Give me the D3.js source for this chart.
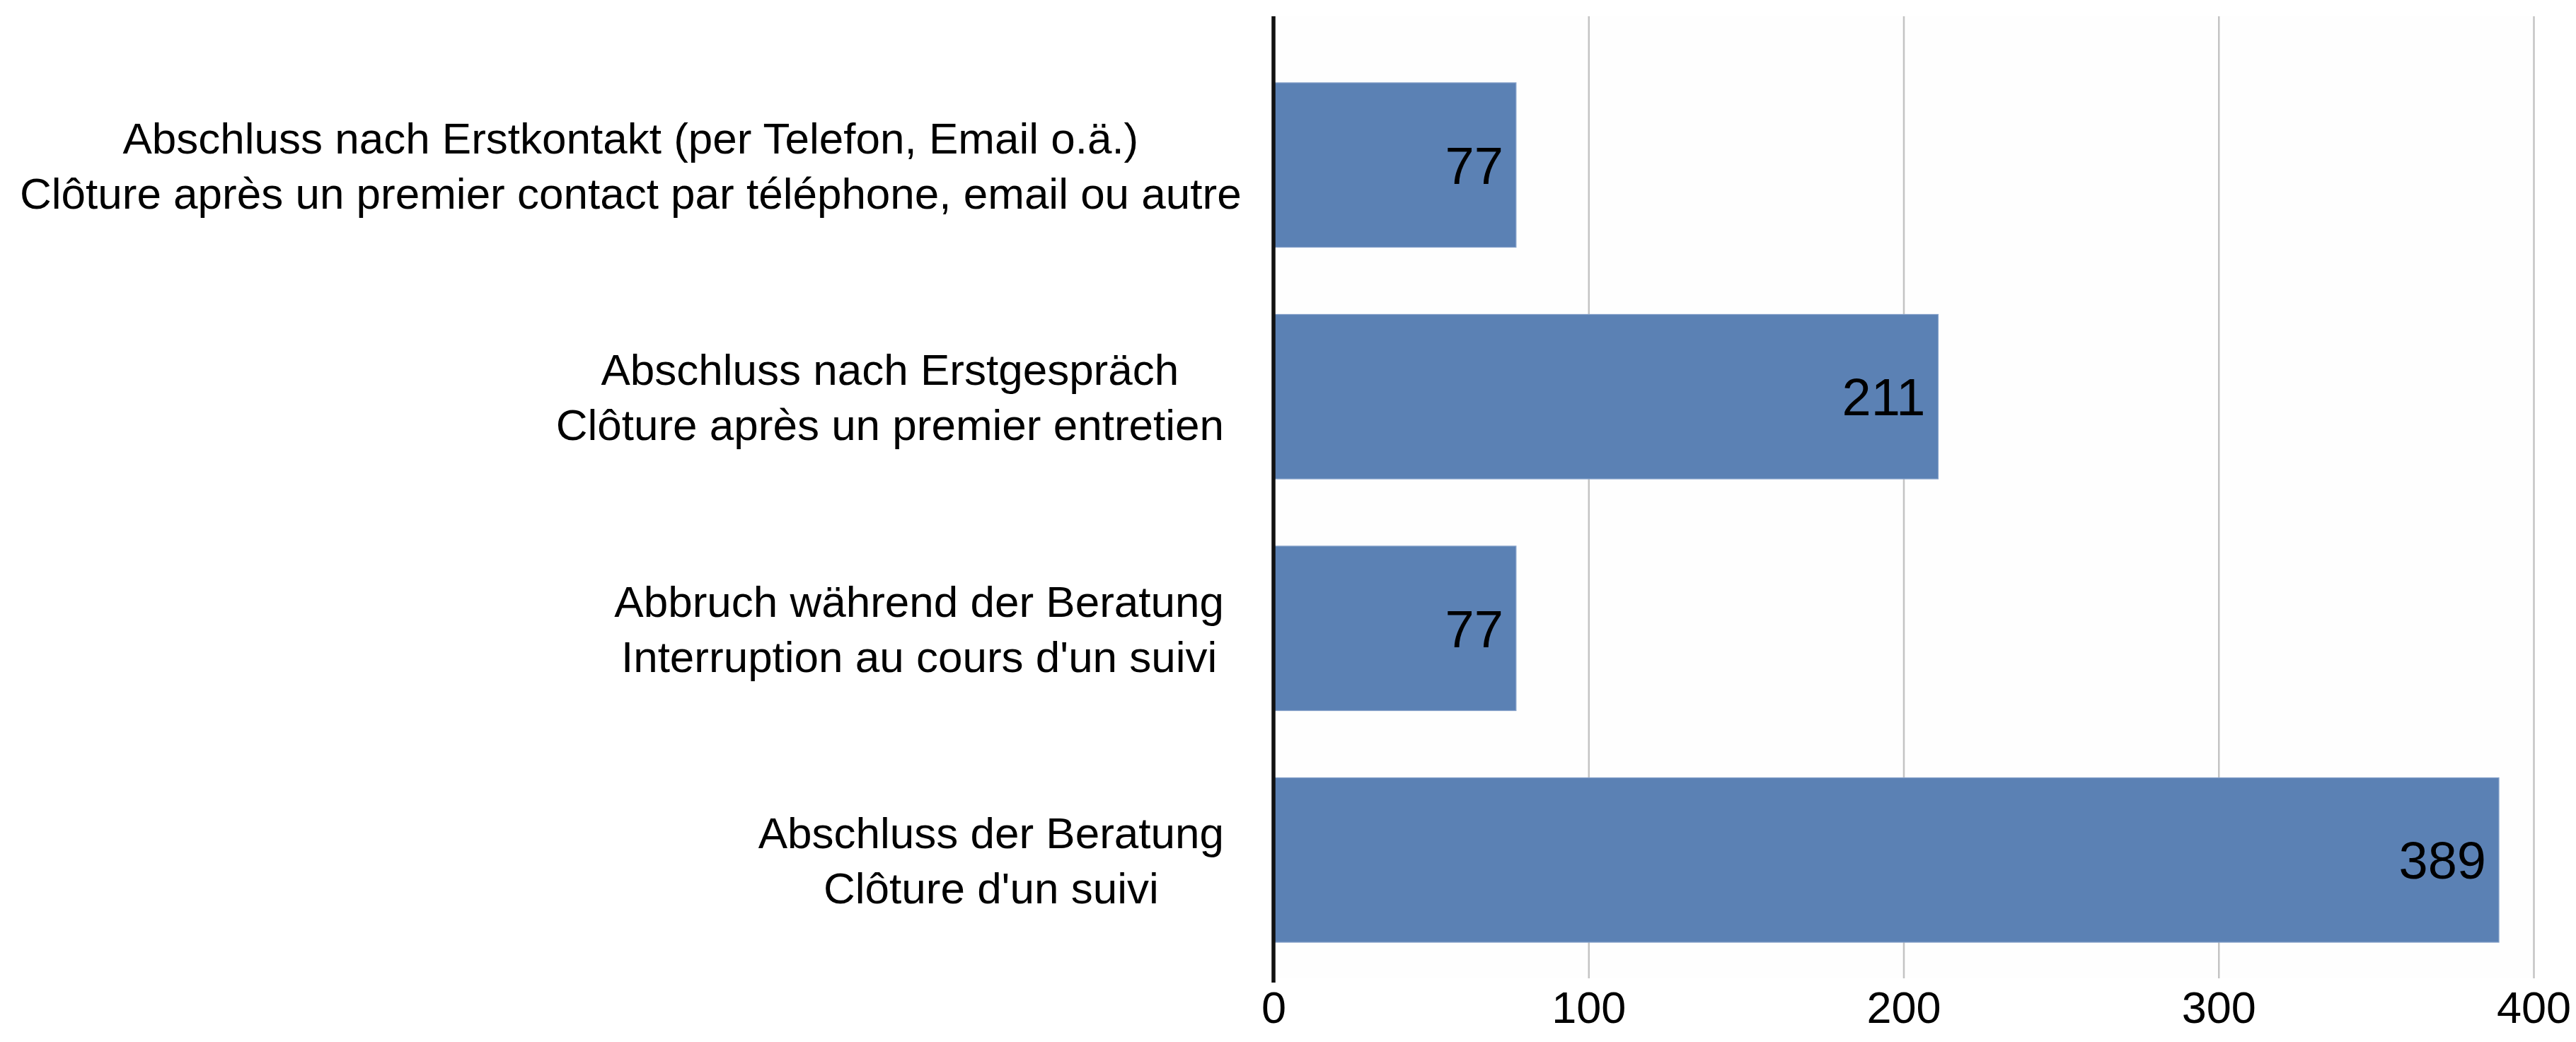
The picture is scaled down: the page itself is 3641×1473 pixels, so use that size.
<!DOCTYPE html>
<html>
<head>
<meta charset="utf-8">
<script src="https://cdn.jsdelivr.net/npm/d3@7"></script>
<style>
  html, body { margin: 0; padding: 0; background: #ffffff; }
  svg { display: block; }
  text { font-family: "Liberation Sans", Arial, Helvetica, sans-serif; fill: #000; }
</style>
</head>
<body>
<svg id="chart" width="3641" height="1473"></svg>
<script>
// ---- data ----
const categoriesDE = [
  "Abschluss nach Erstkontakt (per Telefon, Email o.ä.)",
  "Abschluss nach Erstgespräch",
  "Abbruch während der Beratung",
  "Abschluss der Beratung"
];
const categoriesFR = [
  "Clôture après un premier contact par téléphone, email ou autre",
  "Clôture après un premier entretien",
  "Interruption au cours d'un suivi",
  "Clôture d'un suivi"
];
const values = [77, 211, 77, 389];
const tickValues = [0, 100, 200, 300, 400];

// ---- layout ----
const W = 3641, H = 1473;
const plotLeft = 1800, plotRight = 3581, plotTop = 23, plotBottom = 1383;
const svg = d3.select("#chart");

const x = d3.scaleLinear().domain([0, 400]).range([plotLeft, plotRight]);
const y = d3.scaleBand().domain(d3.range(values.length))
  .range([69.5, 1379.5]).paddingInner(0.29).paddingOuter(0.145);

// plot background
svg.append("rect")
  .attr("x", plotLeft).attr("y", plotTop)
  .attr("width", plotRight - plotLeft).attr("height", plotBottom - plotTop)
  .attr("fill", "#fefefe");

// gridlines
const grid = svg.append("g")
  .attr("transform", `translate(0,${plotBottom})`)
  .call(d3.axisBottom(x).tickValues(tickValues.filter(d => d > 0))
    .tickSize(-(plotBottom - plotTop)).tickFormat(""));
grid.select(".domain").remove();
grid.selectAll(".tick line").attr("stroke", "#c4c4c4").attr("stroke-width", 2.5);

// bars
svg.append("g").selectAll("rect")
  .data(values)
  .join("rect")
  .attr("x", x(0))
  .attr("y", (d, i) => y(i))
  .attr("width", d => x(d) - x(0))
  .attr("height", y.bandwidth())
  .attr("fill", "#5b81b4")
  .attr("stroke", "#86a2ca")
  .attr("stroke-width", 1.2);

// value labels
svg.append("g").selectAll("text")
  .data(values)
  .join("text")
  .attr("x", d => x(d) - 18)
  .attr("y", (d, i) => y(i) + y.bandwidth() / 2)
  .attr("dy", "0.36em")
  .attr("text-anchor", "end")
  .style("font-size", "74px")
  .text(d => d);

// y axis line
svg.append("line")
  .attr("x1", plotLeft).attr("x2", plotLeft)
  .attr("y1", plotTop).attr("y2", 1389)
  .attr("stroke", "#111").attr("stroke-width", 5.5);

// x tick labels
const xAxis = svg.append("g")
  .attr("transform", `translate(0,1389)`)
  .call(d3.axisBottom(x).tickValues(tickValues).tickSize(0).tickPadding(0));
xAxis.select(".domain").remove();
xAxis.selectAll(".tick text")
  .attr("y", 34)
  .attr("dy", "0.36em")
  .style("font-size", "63px")
  .style("font-family", '"Liberation Sans", Arial, sans-serif')
  .attr("fill", "#000");

// category labels (two lines, centred, block right edge near axis)
const labelRight = 1730;
const labelLeftMin = 28;
const lineGap = 78;
const labels = svg.append("g");
categoriesDE.forEach((de, i) => {
  const cy = y(i) + y.bandwidth() / 2;
  const g = labels.append("g");
  const t1 = g.append("text").attr("y", cy - lineGap / 2).attr("dy", "0.36em")
    .attr("text-anchor", "middle").style("font-size", "62px").text(de);
  const t2 = g.append("text").attr("y", cy + lineGap / 2).attr("dy", "0.36em")
    .attr("text-anchor", "middle").style("font-size", "62px").text(categoriesFR[i]);
  const wMax = Math.max(t1.node().getComputedTextLength(), t2.node().getComputedTextLength());
  const cx = Math.max(labelLeftMin + wMax / 2, labelRight - wMax / 2);
  t1.attr("x", cx);
  t2.attr("x", cx);
});
</script>
</body>
</html>
